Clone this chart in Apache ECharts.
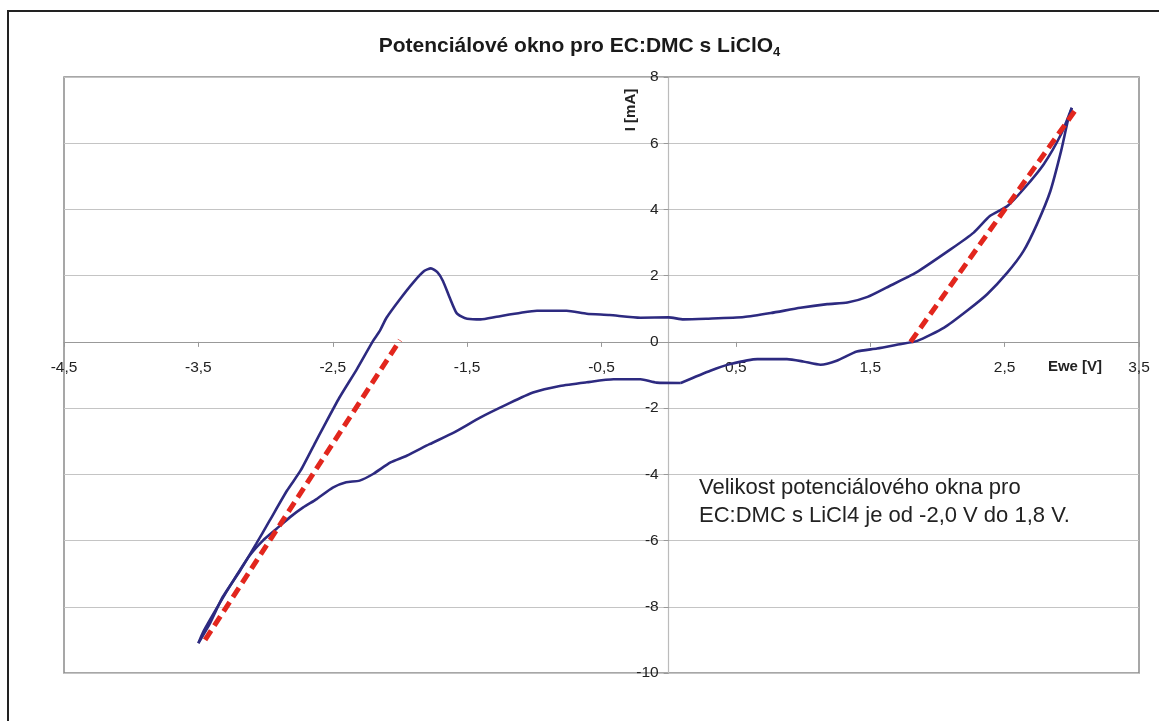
<!DOCTYPE html>
<html>
<head>
<meta charset="utf-8">
<script src="https://cdn.jsdelivr.net/npm/echarts@6/dist/echarts.min.js"></script>
<style>
  html, body { margin: 0; padding: 0; background: #fff; }
  #main { width: 1159px; height: 721px; }
</style>
</head>
<body>
<div id="main"></div>
<script>
// sweep 0 V -> -3.5 V (lower branch)
const sweepNegV = [0.09, -0.09, -0.21, -0.41, -0.61, -0.81, -1.01, -1.2, -1.4, -1.6, -1.78, -1.95, -2.07, -2.2, -2.3, -2.4, -2.5, -2.62, -2.72, -2.82, -2.92, -3.02, -3.12, -3.24, -3.36, -3.46, -3.5]
const sweepNegI = [-1.24, -1.23, -1.13, -1.13, -1.22, -1.33, -1.53, -1.88, -2.28, -2.74, -3.09, -3.44, -3.64, -3.99, -4.19, -4.24, -4.4, -4.75, -5.0, -5.3, -5.65, -6.0, -6.46, -7.21, -8.02, -8.73, -9.1]
// sweep -3.5 V -> 3.0 V (upper branch)
const sweepPosV = [-3.5, -3.41, -3.32, -3.19, -3.07, -2.97, -2.84, -2.74, -2.63, -2.57, -2.45, -2.32, -2.2, -2.15, -2.1, -2.0, -1.9, -1.82, -1.77, -1.72, -1.68, -1.63, -1.58, -1.54, -1.5, -1.4, -1.28, -1.1, -0.98, -0.76, -0.61, -0.44, -0.21, 0.0, 0.11, 0.28, 0.56, 0.76, 0.98, 1.18, 1.33, 1.48, 1.62, 1.84, 2.1, 2.27, 2.39, 2.52, 2.64, 2.79, 2.92, 3.0]
const sweepPosI = [-9.1, -8.47, -7.71, -6.91, -6.1, -5.4, -4.49, -3.89, -3.04, -2.58, -1.68, -0.82, 0.03, 0.33, 0.73, 1.29, 1.8, 2.14, 2.22, 2.1, 1.84, 1.34, 0.88, 0.76, 0.7, 0.68, 0.76, 0.88, 0.94, 0.94, 0.85, 0.81, 0.73, 0.74, 0.68, 0.7, 0.75, 0.87, 1.03, 1.14, 1.19, 1.36, 1.64, 2.09, 2.8, 3.3, 3.8, 4.1, 4.61, 5.36, 6.27, 7.07]
// sweep 3.0 V -> 0 V (return branch)
const sweepBackV = [3.0, 2.97, 2.92, 2.84, 2.74, 2.64, 2.52, 2.37, 2.22, 2.05, 1.85, 1.72, 1.55, 1.4, 1.25, 1.13, 1.0, 0.88, 0.66, 0.46, 0.31, 0.09]
const sweepBackI = [7.07, 6.67, 5.76, 4.55, 3.55, 2.74, 2.09, 1.44, 0.94, 0.43, 0.03, -0.07, -0.2, -0.29, -0.57, -0.69, -0.59, -0.52, -0.52, -0.67, -0.87, -1.24]
// tangent lines (red dashed)
const fitLeftV = [-3.45, -2.0]
const fitLeftI = [-9.0, 0.05]
const fitRightV = [1.8, 3.03]
const fitRightI = [0.0, 7.02]

const xMin = -4.5, xMax = 3.5, xStep = 1
const yMin = -10, yMax = 8, yStep = 2

function pairs(xs, ys) {
  return xs.map((x, i) => [x, ys[i]])
}

var chartDom = document.getElementById('main')
var myChart = echarts.init(chartDom)

const W = 1159, H = 721
const gridL = 64, gridR = 20, gridT = 77, gridB = 48
// axes cross at zero: shift them into the plot with offset
const plotW = W - gridL - gridR
const plotH = H - gridT - gridB
const xAxisOffset = -plotH * (0 - yMin) / (yMax - yMin)
const yAxisOffset = -plotW * (0 - xMin) / (xMax - xMin)

const blue = '#2d2a80'
const red = '#e2261d'
const font = 'Arial, "Liberation Sans", Helvetica, sans-serif'

function cvSeries(xs, ys) {
  return {
    type: 'line',
    data: pairs(xs, ys),
    showSymbol: false,
    smooth: 0.2,
    lineStyle: { color: blue, width: 2.6 },
    z: 3,
  }
}

function fitSeries(xs, ys) {
  return {
    type: 'line',
    data: pairs(xs, ys),
    showSymbol: false,
    lineStyle: { color: red, width: 5, type: [11, 6] },
    z: 4,
  }
}

var option = {
  animation: false,
  backgroundColor: '#fff',
  textStyle: { fontFamily: font },
  title: {
    text: 'Potenciálové okno pro EC:DMC s LiClO{sub|4}',
    left: 'center',
    top: 28,
    textStyle: {
      fontFamily: font,
      fontSize: 21,
      fontWeight: 'bold',
      color: '#1a1a1a',
      lineHeight: 26,
      rich: {
        sub: { fontSize: 13, fontWeight: 'bold', color: '#1a1a1a', lineHeight: 13, verticalAlign: 'bottom' },
      },
    },
  },
  grid: {
    left: gridL,
    right: gridR,
    top: gridT,
    bottom: gridB,
    show: true,
    borderColor: '#8a8a8a',
    borderWidth: 1.5,
    backgroundColor: 'transparent',
  },
  xAxis: {
    type: 'value',
    min: xMin,
    max: xMax,
    interval: xStep,
    position: 'bottom',
    offset: xAxisOffset,
    axisLine: { onZero: false, lineStyle: { color: '#999', width: 1.2 } },
    axisTick: { show: true, length: 5, lineStyle: { color: '#999' } },
    splitLine: { show: false },
    axisLabel: {
      margin: 18,
      fontSize: 15.5,
      color: '#222',
      fontFamily: font,
      showMinLabel: true,
      showMaxLabel: true,
      formatter: (v) => v.toFixed(1).replace('.', ','),
    },
  },
  yAxis: {
    type: 'value',
    min: yMin,
    max: yMax,
    interval: yStep,
    position: 'left',
    offset: yAxisOffset,
    axisLine: { onZero: false, show: true, lineStyle: { color: '#bbb', width: 1.2 } },
    axisTick: { show: true, length: 5, lineStyle: { color: '#999' } },
    splitLine: { show: true, lineStyle: { color: '#c4c4c4', width: 1.2 } },
    axisLabel: {
      margin: 10,
      fontSize: 15.5,
      color: '#222',
      fontFamily: font,
      showMinLabel: true,
      showMaxLabel: true,
      formatter: (v) => String(v),
    },
  },
  series: [
    cvSeries(sweepNegV, sweepNegI),
    cvSeries(sweepPosV, sweepPosI),
    cvSeries(sweepBackV, sweepBackI),
    fitSeries(fitLeftV, fitLeftI),
    fitSeries(fitRightV, fitRightI),
  ],
  graphic: [
    {
      type: 'rect',
      shape: { x: 8, y: 11, width: 1200, height: 800 },
      style: { fill: 'none', stroke: '#222', lineWidth: 2 },
      silent: true,
    },
    {
      type: 'text',
      x: 631,
      y: 110,
      rotation: Math.PI / 2,
      style: {
        text: 'I [mA]',
        font: 'bold 15px ' + font,
        fill: '#222',
        textAlign: 'center',
        textVerticalAlign: 'middle',
      },
    },
    {
      type: 'text',
      x: 1075,
      y: 367,
      style: {
        text: 'Ewe [V]',
        font: 'bold 15px ' + font,
        fill: '#222',
        textAlign: 'center',
        textVerticalAlign: 'middle',
      },
    },
    {
      type: 'text',
      left: 699,
      top: 474,
      style: {
        text: 'Velikost potenciálového okna pro\nEC:DMC s LiCl4 je od -2,0 V do 1,8 V.',
        font: '22px ' + font,
        lineHeight: 28,
        fill: '#222',
      },
    },
  ],
}

option && myChart.setOption(option)
</script>
</body>
</html>
